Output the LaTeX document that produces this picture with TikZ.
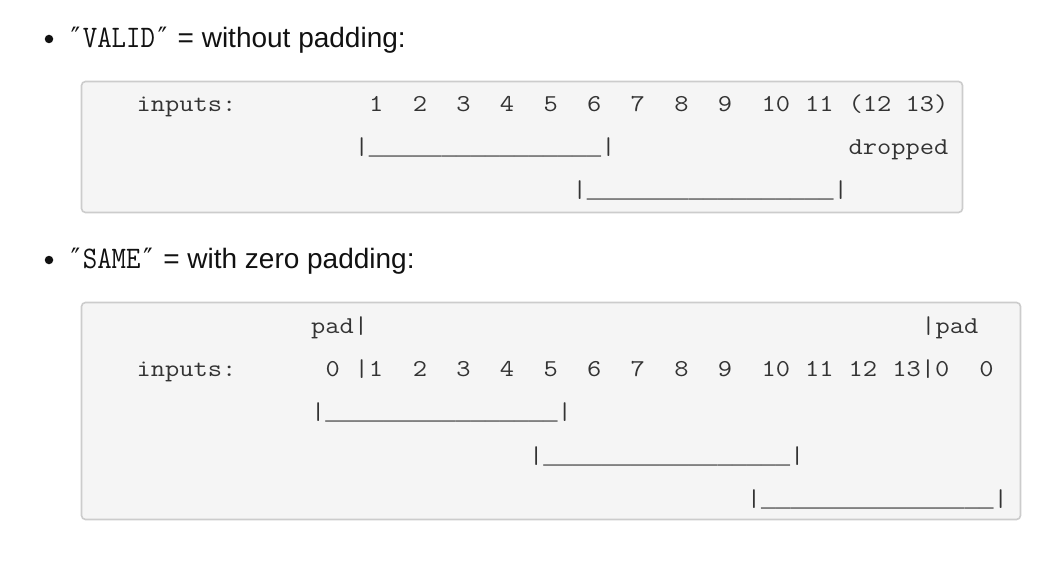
\documentclass[tikz,border=0pt]{standalone}
\usepackage{fontspec}
\setmainfont{Liberation Sans}
\newfontfamily\monof{Liberation Mono}
\newfontfamily\dejav{DejaVu Sans}
\definecolor{boxfill}{HTML}{F5F5F5}
\definecolor{boxline}{HTML}{CCCCCC}
\definecolor{codetext}{HTML}{333333}
\definecolor{headtext}{HTML}{111111}
\newcommand{\cw}{14.53}
\newcommand{\serifmono}[1]{\scalebox{1.144}[1]{\ttfamily\fontsize{24.2}{24.2}\selectfont #1}}
% monospaced token (serif mono, stretched to the 14.53px cell): name, column, baseline y, text
\newcommand{\mt}[4]{\node[monotok] (#1) at ({136.7+#2*\cw}, #3) {\serifmono{#4}};}
% bar-and-underscore run: name, column, baseline y, text
\newcommand{\mw}[4]{\node[monotok] (#1) at ({136.7+#2*\cw}, #3)
  {\serifmono{|}{\monof\fontsize{24.2}{24.2}\selectfont #4}\serifmono{|}};}
\newcommand{\dq}{\makebox[14.9pt]{\dejav\fontsize{25}{25}\selectfont ″}}
\newcommand{\valword}[1]{\scalebox{1}[1.12]{\ttfamily\fontsize{28}{28}\selectfont\dq #1\dq}}
\newcommand{\usxvi}{\_\_\_\_\_\_\_\_\_\_\_\_\_\_\_\_}
\begin{document}
\begin{tikzpicture}[x=1pt,y=-1pt,
  monotok/.style={text=codetext, anchor=base west, inner sep=0pt, outer sep=0pt},
  codebox/.style={draw=boxline, fill=boxfill, line width=1.6pt, rounded corners=4pt},
  bulletdot/.style={circle, fill=headtext, minimum size=8.5pt, inner sep=0pt},
  heading/.style={font=\fontsize{28}{28}\selectfont, text=headtext,
    anchor=base west, inner sep=0pt, outer sep=0pt}]
\useasboundingbox[fill=white] (0,0) rectangle (1041,564);

% ---------- VALID ----------
\node[bulletdot] (b1) at (49,39) {};
\node[heading] (h1) at (68,48) {\valword{VALID} = without padding:};
\draw[codebox] (81.5,81.5) rectangle (962.5,212.5);
\mt{vin}{0}{111.5}{inputs:}
\mt{v1}{16}{111.5}{1}
\mt{v2}{19}{111.5}{2}
\mt{v3}{22}{111.5}{3}
\mt{v4}{25}{111.5}{4}
\mt{v5}{28}{111.5}{5}
\mt{v6}{31}{111.5}{6}
\mt{v7}{34}{111.5}{7}
\mt{v8}{37}{111.5}{8}
\mt{v9}{40}{111.5}{9}
\mt{v10}{43}{111.5}{10}
\mt{v11}{46}{111.5}{11}
\mt{vdrop}{49}{111.5}{(12\ 13)}
\mw{vw1}{15}{155}{\usxvi}
\mt{vdropped}{49}{155}{dropped}
\mw{vw2}{30}{198}{\usxvi\_}

% ---------- SAME ----------
\node[bulletdot] (b2) at (49,260) {};
\node[heading] (h2) at (68,268) {\valword{SAME} = with zero padding:};
\draw[codebox] (81.5,302.5) rectangle (1020.5,519.5);
\mt{spadl}{12}{333}{pad|}
\mt{spadr}{54}{333}{|pad}
\mt{sin}{0}{376}{inputs:}
\mt{s0a}{13}{376}{0}
\mt{s1}{15}{376}{|1}
\mt{s2}{19}{376}{2}
\mt{s3}{22}{376}{3}
\mt{s4}{25}{376}{4}
\mt{s5}{28}{376}{5}
\mt{s6}{31}{376}{6}
\mt{s7}{34}{376}{7}
\mt{s8}{37}{376}{8}
\mt{s9}{40}{376}{9}
\mt{s10}{43}{376}{10}
\mt{s11}{46}{376}{11}
\mt{s12}{49}{376}{12}
\mt{s13}{52}{376}{13|0}
\mt{s0b}{58}{376}{0}
\mw{sw1}{12}{419}{\usxvi}
\mw{sw2}{27}{463}{\usxvi\_}
\mw{sw3}{42}{506}{\usxvi}
\end{tikzpicture}
\end{document}
